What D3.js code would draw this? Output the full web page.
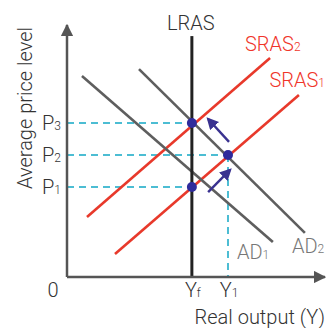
<!DOCTYPE html>
<html><head><meta charset="utf-8">
<script src="https://cdn.jsdelivr.net/npm/d3@7"></script>
<style>body{margin:0;background:#fff}text{font-family:Roboto,"Liberation Sans",sans-serif;font-weight:300}</style>
</head><body><svg id="c" width="327" height="328"></svg>
<script>
// Data (model units, 0-100 on each axis)
const levels = [{name:"P", sub:"1", v:35.7},{name:"P", sub:"2", v:48.4},{name:"P", sub:"3", v:61.1}];
const outputs = [{name:"Y", sub:"f", v:48.4},{name:"Y", sub:"1", v:62.4}];
const curves = [
  {name:"SRAS", sub:"1", kind:"sras", pts:[[18.6,9.1],[89.9,72.2]]},
  {name:"SRAS", sub:"2", kind:"sras", pts:[[7.75,23.8],[78.7,86.9]]},
  {name:"AD", sub:"1", kind:"ad", pts:[[5.8,79.8],[79.8,13.9]]},
  {name:"AD", sub:"2", kind:"ad", pts:[[27.9,82.5],[92.2,17.5]]}
];
const lrasTop = 95.6;
const equilibria = [[48.4,35.7],[62.4,48.4],[48.4,61.1]];
const shifts = [[[54.7,33.7],[63.2,42.5]],[[62.8,53.6],[54.7,62.7]]];

const svg = d3.select("#c");
const x = d3.scaleLinear().domain([0,100]).range([67,325]);
const y = d3.scaleLinear().domain([0,100]).range([277,25]);
const line = d3.line().x(d=>x(d[0])).y(d=>y(d[1]));

const defs = svg.append("defs");
defs.append("marker").attr("id","ax").attr("viewBox","0 0 10 10").attr("refX",9).attr("refY",5)
  .attr("markerWidth",5).attr("markerHeight",5).attr("orient","auto-start-reverse")
  .append("path").attr("d","M0,0L10,5L0,10z").attr("fill","#555");
defs.append("marker").attr("id","ar").attr("viewBox","0 0 10 10").attr("refX",8).attr("refY",5)
  .attr("markerWidth",5).attr("markerHeight",5).attr("orient","auto")
  .append("path").attr("d","M0,0L10,5L0,10z").attr("fill","#3a3290");

// dashed guides
svg.selectAll(".hg").data(levels).join("line")
  .attr("x1",x(0)).attr("x2",(d,i)=>x(i===1?outputs[1].v:outputs[0].v))
  .attr("y1",d=>y(d.v)).attr("y2",d=>y(d.v))
  .attr("stroke","#4cbdd3").attr("stroke-width",2).attr("stroke-dasharray","7,5");
svg.append("line").attr("x1",x(outputs[1].v)).attr("x2",x(outputs[1].v))
  .attr("y1",y(levels[1].v)).attr("y2",y(0))
  .attr("stroke","#4cbdd3").attr("stroke-width",2).attr("stroke-dasharray","7,5");

// curves
svg.selectAll(".cv").data(curves).join("path")
  .attr("d",d=>line(d.pts)).attr("fill","none")
  .attr("stroke",d=>d.kind==="sras"?"#e8392b":"#5e5e5e").attr("stroke-width",2.6);

// LRAS
svg.append("line").attr("x1",x(outputs[0].v)).attr("x2",x(outputs[0].v))
  .attr("y1",y(lrasTop)).attr("y2",y(0)).attr("stroke","#222").attr("stroke-width",3);

// axes
svg.append("line").attr("x1",x(0)).attr("y1",y(0)).attr("x2",x(0)).attr("y2",y(100))
  .attr("stroke","#555").attr("stroke-width",2.5).attr("marker-end","url(#ax)");
svg.append("line").attr("x1",x(0)).attr("y1",y(0)).attr("x2",x(100)).attr("y2",y(0))
  .attr("stroke","#555").attr("stroke-width",2.5).attr("marker-end","url(#ax)");

// shift arrows
svg.selectAll(".sh").data(shifts).join("line")
  .attr("x1",d=>x(d[0][0])).attr("y1",d=>y(d[0][1])).attr("x2",d=>x(d[1][0])).attr("y2",d=>y(d[1][1]))
  .attr("stroke","#3a3290").attr("stroke-width",2.4).attr("marker-end","url(#ar)");

// equilibrium dots
svg.selectAll(".eq").data(equilibria).join("circle")
  .attr("cx",d=>x(d[0])).attr("cy",d=>y(d[1])).attr("r",5).attr("fill","#2f2b9c");

function lab(t, name, sub, subSize){
  t.append("tspan").text(name);
  t.append("tspan").attr("font-size",subSize).text(sub);
}
const FS = 20;
// price labels
levels.forEach(d=>{
  const t = svg.append("text").attr("x",42).attr("y",y(d.v)+7).attr("font-size",FS).attr("fill","#333");
  lab(t,d.name,d.sub,12);
});
// output labels
outputs.forEach(d=>{
  const t = svg.append("text").attr("x",x(d.v)+1).attr("text-anchor","middle").attr("y",297).attr("font-size",FS).attr("fill","#333");
  lab(t,d.name,d.sub,12);
});
svg.append("text").attr("x",53).attr("y",297).attr("text-anchor","middle").attr("font-size",FS).attr("fill","#333").text("0");
svg.append("text").attr("x",325).attr("y",324).attr("text-anchor","end").attr("font-size",FS).attr("fill","#333").text("Real output (Y)");
svg.append("text").attr("transform","translate(32,108) rotate(-90)").attr("text-anchor","middle")
  .attr("font-size",FS).attr("fill","#333").text("Average price level");
svg.append("text").attr("x",x(outputs[0].v)-1).attr("y",30).attr("text-anchor","middle").attr("font-size",FS).attr("fill","#333").text("LRAS");

// curve labels [x, y, color, anchor]
const cl = {"SRAS1":[325,87,"#f0352a","end"],"SRAS2":[245,51,"#f0352a","start"],"AD1":[237,259,"#777","start"],"AD2":[292,253,"#777","start"]};
curves.forEach(d=>{
  const p = cl[d.name+d.sub];
  const t = svg.append("text").attr("x",p[0]).attr("y",p[1]).attr("text-anchor",p[3]).attr("font-size",FS).attr("fill",p[2]);
  lab(t,d.name,d.sub,12);
});
</script></body></html>
